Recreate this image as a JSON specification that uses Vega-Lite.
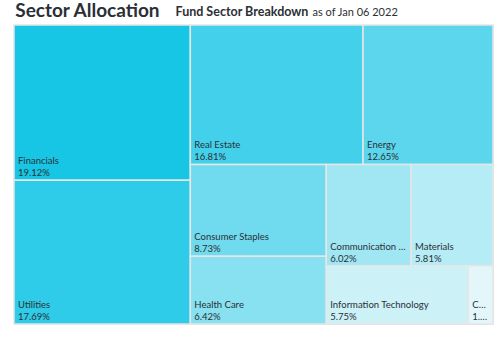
{
  "$schema": "https://vega.github.io/schema/vega-lite/v6.json",
  "autosize": {"type": "none"},
  "width": 479,
  "height": 299,
  "padding": {"left": 14, "top": 25, "right": 8, "bottom": 13},
  "background": "white",
  "title": {
    "text": "Sector Allocation",
    "anchor": "start",
    "font": "Lato",
    "fontSize": 19,
    "fontWeight": "bold",
    "color": "#2a3035",
    "baseline": "alphabetic",
    "dx": 2,
    "dy": 40,
    "offset": 9
  },
  "data": {
    "values": [
      {"name": "Financials", "pct": 19.12, "order": 1, "g1": "A", "g2": "Fin", "g3": "Fin", "g4": "Fin", "g5": "Fin"},
      {"name": "Utilities", "pct": 17.69, "order": 2, "g1": "A", "g2": "Util", "g3": "Util", "g4": "Util", "g5": "Util"},
      {"name": "Real Estate", "pct": 16.81, "order": 3, "g1": "B", "g2": "B1", "g3": "RE", "g4": "RE", "g5": "RE"},
      {"name": "Energy", "pct": 12.65, "order": 4, "g1": "B", "g2": "B1", "g3": "EN", "g4": "EN", "g5": "EN"},
      {"name": "Consumer Staples", "pct": 8.73, "order": 5, "g1": "B", "g2": "B2", "g3": "B2a", "g4": "CS", "g5": "CS"},
      {"name": "Health Care", "pct": 6.42, "order": 6, "g1": "B", "g2": "B2", "g3": "B2a", "g4": "HC", "g5": "HC"},
      {"name": "Communication Services", "pct": 6.02, "order": 7, "g1": "B", "g2": "B2", "g3": "B2b", "g4": "B2b1", "g5": "CM"},
      {"name": "Materials", "pct": 5.81, "order": 8, "g1": "B", "g2": "B2", "g3": "B2b", "g4": "B2b1", "g5": "MT"},
      {"name": "Information Technology", "pct": 5.75, "order": 9, "g1": "B", "g2": "B2", "g3": "B2b", "g4": "B2b2", "g5": "IT"},
      {"name": "Consumer Discretionary", "pct": 1.00, "order": 10, "g1": "B", "g2": "B2", "g3": "B2b", "g4": "B2b2", "g5": "CD"}
    ]
  },
  "transform": [
    {"window": [{"op": "sum", "field": "pct", "as": "r1"}], "sort": [{"field": "order"}], "frame": [null, 0]},
    {"calculate": "datum.r1 - datum.pct", "as": "b1"},
    {"joinaggregate": [{"op": "min", "field": "b1", "as": "s1"}, {"op": "sum", "field": "pct", "as": "w1"}], "groupby": ["g1"]},
    {"joinaggregate": [{"op": "sum", "field": "pct", "as": "p0"}]},
    {"calculate": "100 * datum.s1 / datum.p0", "as": "xa0"},
    {"calculate": "100 * (datum.s1 + datum.w1) / datum.p0", "as": "xa1"},

    {"window": [{"op": "sum", "field": "pct", "as": "r2"}], "groupby": ["g1"], "sort": [{"field": "order"}], "frame": [null, 0]},
    {"calculate": "datum.r2 - datum.pct", "as": "b2"},
    {"joinaggregate": [{"op": "min", "field": "b2", "as": "s2"}, {"op": "sum", "field": "pct", "as": "w2"}], "groupby": ["g2"]},
    {"calculate": "100 * datum.s2 / datum.w1", "as": "ya0"},
    {"calculate": "100 * (datum.s2 + datum.w2) / datum.w1", "as": "ya1"},

    {"window": [{"op": "sum", "field": "pct", "as": "r3"}], "groupby": ["g2"], "sort": [{"field": "order"}], "frame": [null, 0]},
    {"calculate": "datum.r3 - datum.pct", "as": "b3"},
    {"joinaggregate": [{"op": "min", "field": "b3", "as": "s3"}, {"op": "sum", "field": "pct", "as": "w3"}], "groupby": ["g3"]},
    {"calculate": "datum.xa0 + (datum.xa1 - datum.xa0) * datum.s3 / datum.w2", "as": "xb0"},
    {"calculate": "datum.xa0 + (datum.xa1 - datum.xa0) * (datum.s3 + datum.w3) / datum.w2", "as": "xb1"},

    {"window": [{"op": "sum", "field": "pct", "as": "r4"}], "groupby": ["g3"], "sort": [{"field": "order"}], "frame": [null, 0]},
    {"calculate": "datum.r4 - datum.pct", "as": "b4"},
    {"joinaggregate": [{"op": "min", "field": "b4", "as": "s4"}, {"op": "sum", "field": "pct", "as": "w4"}], "groupby": ["g4"]},
    {"calculate": "datum.ya0 + (datum.ya1 - datum.ya0) * datum.s4 / datum.w3", "as": "yb0"},
    {"calculate": "datum.ya0 + (datum.ya1 - datum.ya0) * (datum.s4 + datum.w4) / datum.w3", "as": "yb1"},

    {"window": [{"op": "sum", "field": "pct", "as": "r5"}], "groupby": ["g4"], "sort": [{"field": "order"}], "frame": [null, 0]},
    {"calculate": "datum.r5 - datum.pct", "as": "b5"},
    {"joinaggregate": [{"op": "min", "field": "b5", "as": "s5"}, {"op": "sum", "field": "pct", "as": "w5"}], "groupby": ["g5"]},
    {"calculate": "datum.xb0 + (datum.xb1 - datum.xb0) * datum.s5 / datum.w4", "as": "x0"},
    {"calculate": "datum.xb0 + (datum.xb1 - datum.xb0) * (datum.s5 + datum.w5) / datum.w4", "as": "x1"},
    {"calculate": "datum.yb0", "as": "y0"},
    {"calculate": "datum.yb1", "as": "y1"},
    {"calculate": "format(datum.pct, '.2f') + '%'", "as": "label"}
  ],
  "encoding": {
    "x": {
      "field": "x0", "type": "quantitative",
      "scale": {"domain": [0, 100], "nice": false, "zero": false},
      "axis": {
        "orient": "top", "domain": false, "ticks": false, "labels": false, "grid": false,
        "title": "Fund Sector Breakdown",
        "titleX": 161, "titleY": -10, "titleAlign": "left", "titleAnchor": "start",
        "titleBaseline": "alphabetic", "titleFont": "Lato", "titleFontSize": 12.5,
        "titleFontWeight": "bold", "titleColor": "#2a3035"
      }
    },
    "y": {
      "field": "y0", "type": "quantitative",
      "scale": {"domain": [0, 100], "nice": false, "zero": false, "reverse": true},
      "axis": {
        "domain": false, "ticks": false, "labels": false, "grid": false,
        "title": "as of Jan 06 2022",
        "titleAngle": 0, "titleX": 298, "titleY": -10, "titleAlign": "left", "titleAnchor": "start",
        "titleBaseline": "alphabetic", "titleFont": "Lato", "titleFontSize": 11,
        "titleFontWeight": "normal", "titleColor": "#2a3035"
      }
    }
  },
  "layer": [
    {
      "mark": {"type": "rect", "stroke": "#e6e6e6", "strokeWidth": 1.5},
      "encoding": {
        "x2": {"field": "x1"},
        "y2": {"field": "y1"},
        "color": {
          "field": "name", "type": "nominal", "legend": null,
          "scale": {
            "domain": ["Financials", "Utilities", "Real Estate", "Energy", "Consumer Staples", "Health Care", "Communication Services", "Materials", "Information Technology", "Consumer Discretionary"],
            "range": ["#17c6e5", "#2ecce8", "#42d0ea", "#5cd6ec", "#70dbee", "#88e1f1", "#a0e6f3", "#b5ecf5", "#ccf1f7", "#e3f7fa"]
          }
        }
      }
    },
    {
      "mark": {
        "type": "text", "align": "left", "baseline": "alphabetic", "dx": 4, "dy": -16,
        "font": "Lato", "fontSize": 9.5, "color": "#2a3035",
        "limit": {"expr": "(datum.x1 - datum.x0) * width / 100 - 6"}
      },
      "encoding": {
        "y": {"field": "y1", "type": "quantitative"},
        "text": {"field": "name"}
      }
    },
    {
      "mark": {
        "type": "text", "align": "left", "baseline": "alphabetic", "dx": 4, "dy": -4.5,
        "font": "Lato", "fontSize": 9.5, "color": "#2a3035",
        "limit": {"expr": "(datum.x1 - datum.x0) * width / 100 - 6"}
      },
      "encoding": {
        "y": {"field": "y1", "type": "quantitative"},
        "text": {"field": "label"}
      }
    }
  ]
}
